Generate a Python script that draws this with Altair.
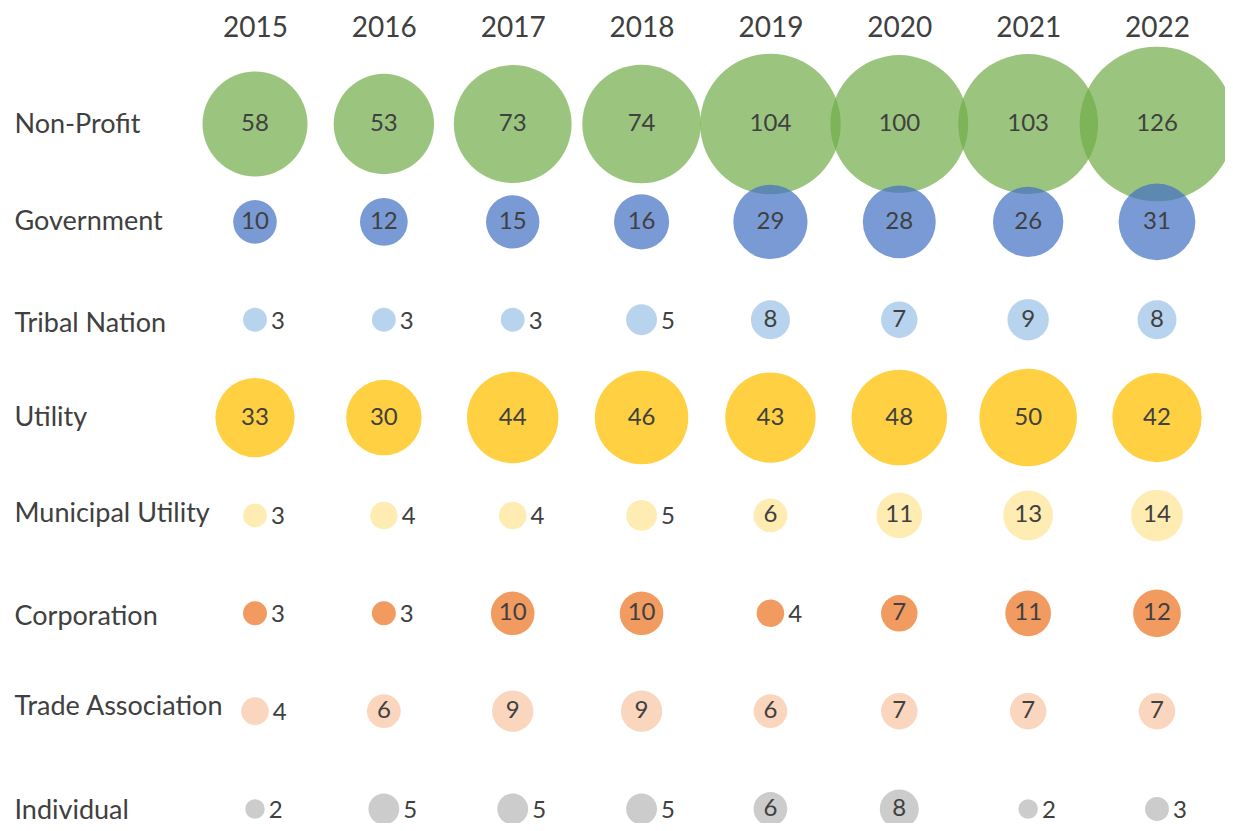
import altair as alt
import pandas as pd

years = [2015, 2016, 2017, 2018, 2019, 2020, 2021, 2022]
categories = ["Non-Profit", "Government", "Tribal Nation", "Utility",
              "Municipal Utility", "Corporation", "Trade Association", "Individual"]

non_profit = [58, 53, 73, 74, 104, 100, 103, 126]
government = [10, 12, 15, 16, 29, 28, 26, 31]
tribal_nation = [3, 3, 3, 5, 8, 7, 9, 8]
utility = [33, 30, 44, 46, 43, 48, 50, 42]
municipal_utility = [3, 4, 4, 5, 6, 11, 13, 14]
corporation = [3, 3, 10, 10, 4, 7, 11, 12]
trade_association = [4, 6, 9, 9, 6, 7, 7, 7]
individual = [2, 5, 5, 5, 6, 8, 2, 3]

series = [non_profit, government, tribal_nation, utility,
          municipal_utility, corporation, trade_association, individual]

colors = ["#70AD47", "#4472C4", "#9DC3E6", "#FFC000",
          "#FFE699", "#ED7D31", "#F8CBAD", "#BFBFBF"]
opacities = [0.7, 0.8, 0.8, 0.8, 0.9, 0.8, 0.9, 1.0]

rows = []
for cat, vals in zip(categories, series):
    for yr, v in zip(years, vals):
        rows.append({"cat": cat, "year": yr, "v": v})
df = pd.DataFrame(rows)

TEXT = "#404040"
FONT = "Lato"

label_shift = ("datum.value == 'Tribal Nation' ? 4 : "
               "datum.value == 'Municipal Utility' ? -2 : "
               "datum.value == 'Corporation' ? 3 : "
               "datum.value == 'Trade Association' ? -5 : "
               "datum.value == 'Individual' ? 1 : 0")

base = alt.Chart(df).encode(
    x=alt.X("year:O",
            scale=alt.Scale(type="point", padding=0),
            axis=alt.Axis(orient="top", title=None, ticks=False, tickSize=0,
                          domain=False, grid=False, labelAngle=0,
                          labelFont=FONT, labelFontSize=28, labelColor=TEXT,
                          labelBaseline="middle", labelPadding=96,
                          labelOverlap=False)),
    y=alt.Y("cat:N", sort=categories,
            scale=alt.Scale(type="point", padding=0),
            axis=alt.Axis(title=None, ticks=False, tickSize=0, domain=False,
                          grid=False, labelFont=FONT, labelFontSize=27,
                          labelColor=TEXT, labelAlign="left",
                          labelBaseline="middle", labelPadding=241,
                          labelOffset=alt.expr(label_shift),
                          labelLimit=400, labelOverlap=False)),
)

circles = base.mark_circle().encode(
    size=alt.Size("v:Q", scale=alt.Scale(domain=[0, 126], range=[0, 190 * 126]),
                  legend=None),
    color=alt.Color("cat:N", scale=alt.Scale(domain=categories, range=colors),
                    legend=None),
    opacity=alt.Opacity("cat:N", scale=alt.Scale(domain=categories, range=opacities),
                        legend=None),
)

inside = base.transform_filter("datum.v >= 6").mark_text(
    font=FONT, fontSize=24, color=TEXT, align="center", baseline="middle"
).encode(text="v:Q")

outside = base.transform_filter("datum.v <= 5").mark_text(
    font=FONT, fontSize=24, color=TEXT, align="left", baseline="middle",
    dx=alt.expr("sqrt(datum.v * 190) / 2 + 4"), dy=2
).encode(text="v:Q")

chart = alt.layer(circles, inside, outside).properties(
    width=902, height=685,
    padding={"left": 247, "top": 116, "right": 68, "bottom": 14},
    autosize=alt.AutoSizeParams(type="none"),
).configure_view(strokeWidth=0)

chart.save("out.html", embed_options={"renderer": "svg", "actions": False})
